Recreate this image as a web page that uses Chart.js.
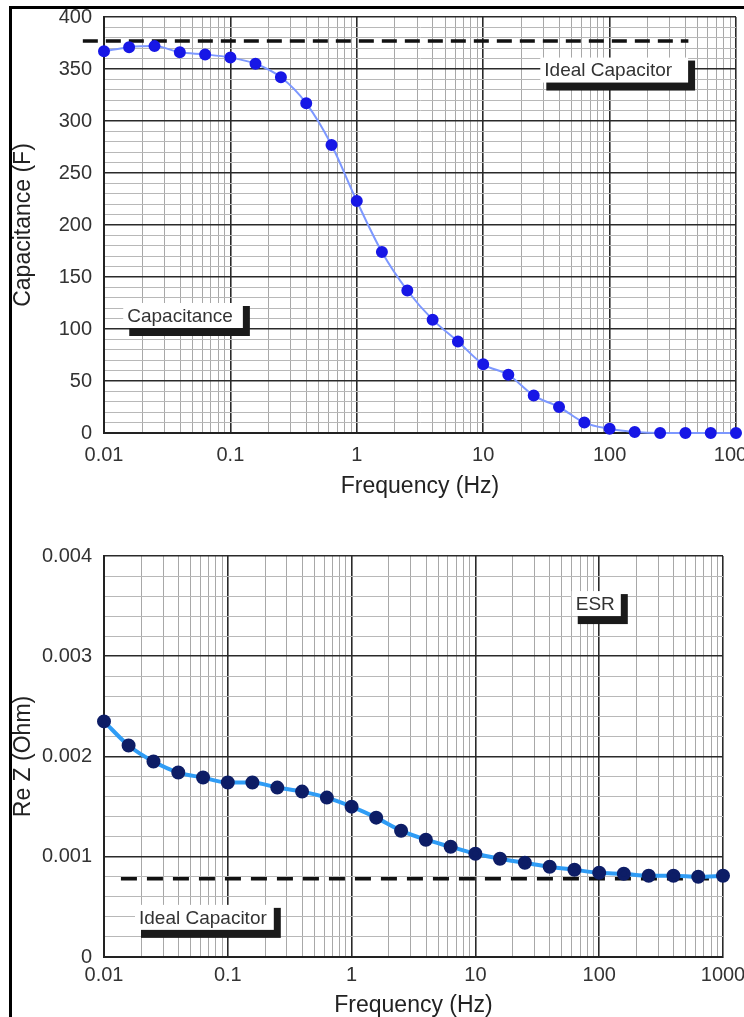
<!DOCTYPE html>
<html>
<head>
<meta charset="utf-8">
<script src="https://cdn.jsdelivr.net/npm/chart.js@4.4.1/dist/chart.umd.min.js"></script>
<style>
html, body { margin: 0; padding: 0; background: #fff; }
#page { position: relative; width: 744px; height: 1017px; overflow: hidden; }
#capChart { position: absolute; left: 0; top: 0; }
#esrChart { position: absolute; left: 0; top: 505px; }
.frameTop { position: absolute; left: 9px; top: 6px; width: 735px; height: 3px; background: #000; }
.frameLeft { position: absolute; left: 9px; top: 6px; width: 3px; height: 1011px; background: #000; }
</style>
</head>
<body>
<div id="page">
  <canvas id="capChart" width="744" height="505"></canvas>
  <canvas id="esrChart" width="744" height="512"></canvas>
  <div class="frameTop"></div>
  <div class="frameLeft"></div>
</div>
<script>
// measured data, 5 points per decade
const freqHz = [0.01, 0.0158, 0.0251, 0.0398, 0.0631, 0.1, 0.158, 0.251, 0.398, 0.631,
  1, 1.58, 2.51, 3.98, 6.31, 10, 15.8, 25.1, 39.8, 63.1, 100, 158, 251, 398, 631, 1000];
const capacitanceF = [367, 371, 372, 366, 364, 361, 355, 342, 317, 277,
  223, 174, 137, 109, 88, 66, 56, 36, 25, 10, 4, 1, 0, 0, 0, 0];
const reZOhm = [0.00235, 0.00211, 0.00195, 0.00184, 0.00179, 0.00174, 0.00174, 0.00169, 0.00165, 0.00159,
  0.0015, 0.00139, 0.00126, 0.00117, 0.0011, 0.00103, 0.00098, 0.00094, 0.0009, 0.00087,
  0.00084, 0.00083, 0.00081, 0.00081, 0.0008, 0.00081];

// ideal capacitor reference lines
const idealCapX = [0.0068, 420];
const idealCapF = [377, 377];
const idealEsrX = [0.0137, 1000];
const idealEsrOhm = [0.00078, 0.00078];

// axis labels
const decadeTicks = [0.01, 0.1, 1, 10, 100, 1000];
const decadeLabels = ['0.01', '0.1', '1', '10', '100', '1000'];
const capTicks = [0, 50, 100, 150, 200, 250, 300, 350, 400];
const capLabels = ['0', '50', '100', '150', '200', '250', '300', '350', '400'];
const esrTicks = [0, 0.001, 0.002, 0.003, 0.004];
const esrLabels = ['0', '0.001', '0.002', '0.003', '0.004'];

Chart.defaults.font.family = '"Liberation Sans", Arial, Helvetica, sans-serif';
Chart.defaults.color = '#333';

const near = (a, b) => Math.abs(a - b) <= Math.abs(b) * 1e-6 + 1e-12;
const findIdx = (arr, v) => arr.findIndex(t => near(v, t));

// 1..9 x 10^k grid for log axis
function logGrid() {
  const out = [];
  for (let d = 0; d < decadeTicks.length - 1; d++) {
    for (let m = 1; m < 10; m++) out.push(decadeTicks[d] * m);
  }
  out.push(decadeTicks[decadeTicks.length - 1]);
  return out;
}

function linGrid(max, step) {
  const out = [];
  for (let i = 0; i * step <= max + step / 100; i++) out.push(i * step);
  return out;
}

const boxLabels = {
  id: 'boxLabels',
  afterDatasetsDraw(chart, args, opts) {
    const {ctx, scales} = chart;
    ctx.save();
    ctx.font = '19px "Liberation Sans", Arial, sans-serif';
    ctx.textBaseline = 'middle';
    for (const b of opts.items || []) {
      const x = scales.x.getPixelForValue(b.x);
      const y = scales.y.getPixelForValue(b.y);
      const w = ctx.measureText(b.text).width + (b.pad || 14);
      const h = 25;
      ctx.fillStyle = '#1a1a1a';
      ctx.fillRect(x + 6, y + 3, w + 1, h + 5);
      ctx.fillStyle = '#fff';
      ctx.fillRect(x, y, w, h);
      ctx.fillStyle = '#333';
      ctx.fillText(b.text, x + 4, y + h / 2 + 1);
    }
    ctx.restore();
  }
};

function freqAxis(axisHeight, labelPad, titlePad) {
  return {
    type: 'logarithmic',
    min: 0.01,
    max: 1000,
    afterBuildTicks: s => { s.ticks = logGrid().map(v => ({value: v})); },
    afterFit: s => { s.height = axisHeight; s.paddingLeft = 0; s.paddingRight = 0; },
    ticks: {
      autoSkip: false, maxRotation: 0, padding: labelPad, color: '#333',
      font: {size: 20},
      callback: v => { const i = findIdx(decadeTicks, v); return i < 0 ? '' : decadeLabels[i]; }
    },
    grid: {
      drawTicks: false,
      color: c => findIdx(decadeTicks, c.tick.value) >= 0 ? '#2a2a2a' : '#a8a8a8',
      lineWidth: c => findIdx(decadeTicks, c.tick.value) >= 0 ? 1.6 : 1
    },
    border: {color: '#222', width: 2},
    title: {display: true, text: 'Frequency (Hz)', color: '#222',
      font: {size: 23, lineHeight: 1}, padding: {top: 0, bottom: titlePad}}
  };
}

function valueAxis(max, step, ticks, labels, title) {
  return {
    min: 0,
    max: max,
    afterBuildTicks: s => { s.ticks = linGrid(max, step).map(v => ({value: v})); },
    afterFit: s => { s.width = 104; s.paddingTop = 0; s.paddingBottom = 0; },
    ticks: {
      autoSkip: false, padding: 12, color: '#333', font: {size: 20},
      callback: v => { const i = findIdx(ticks, v); return i < 0 ? '' : labels[i]; }
    },
    grid: {
      drawTicks: false,
      color: c => findIdx(ticks, c.tick.value) >= 0 ? '#2a2a2a' : '#b8b8b8',
      lineWidth: c => findIdx(ticks, c.tick.value) >= 0 ? 1.6 : 1
    },
    border: {color: '#222', width: 2},
    title: {display: true, text: title, color: '#222',
      font: {size: 23, lineHeight: 1}, padding: {top: 12, bottom: 0}}
  };
}

// Capacitance vs frequency
new Chart(document.getElementById('capChart'), {
  type: 'line',
  data: {
    datasets: [{
      label: 'Capacitance',
      data: freqHz.map((f, i) => ({x: f, y: capacitanceF[i]})),
      borderColor: '#7d98ff',
      borderWidth: 2,
      pointRadius: 5,
      pointBackgroundColor: '#1717e6',
      pointBorderColor: '#1717e6',
      cubicInterpolationMode: 'monotone',
      clip: false,
      order: 0
    }, {
      label: 'Ideal Capacitor',
      data: idealCapX.map((f, i) => ({x: f, y: idealCapF[i]})),
      borderColor: '#111',
      borderWidth: 3.5,
      borderDash: [15, 8],
      pointRadius: 0,
      clip: false,
      order: 1
    }]
  },
  options: {
    responsive: false,
    animation: false,
    devicePixelRatio: 1,
    layout: {padding: {top: 17, right: 8, left: 0, bottom: 0}},
    scales: {
      x: freqAxis(72, 10, 7),
      y: valueAxis(400, 10, capTicks, capLabels, 'Capacitance (F)')
    },
    plugins: {
      legend: {display: false},
      tooltip: {enabled: false},
      boxLabels: {items: [
        {text: 'Ideal Capacitor', x: 28.3, y: 361, pad: 20},
        {text: 'Capacitance', x: 0.0142, y: 125}
      ]}
    }
  },
  plugins: [boxLabels]
});

// ESR (real part of impedance) vs frequency
new Chart(document.getElementById('esrChart'), {
  type: 'line',
  data: {
    datasets: [{
      label: 'ESR',
      data: freqHz.map((f, i) => ({x: f, y: reZOhm[i]})),
      borderColor: '#2f9cf5',
      borderWidth: 4,
      pointRadius: 5,
      pointBackgroundColor: '#0d1d66',
      pointBorderColor: '#0d1d66',
      cubicInterpolationMode: 'monotone',
      clip: false,
      order: 0
    }, {
      label: 'Ideal Capacitor',
      data: idealEsrX.map((f, i) => ({x: f, y: idealEsrOhm[i]})),
      borderColor: '#111',
      borderWidth: 3.5,
      borderDash: [16, 10],
      pointRadius: 0,
      clip: false,
      order: 1
    }]
  },
  options: {
    responsive: false,
    animation: false,
    devicePixelRatio: 1,
    layout: {padding: {top: 51, right: 21, left: 0, bottom: 0}},
    scales: {
      x: freqAxis(60, 6, 0),
      y: valueAxis(0.004, 0.0002, esrTicks, esrLabels, 'Re Z (Ohm)')
    },
    plugins: {
      legend: {display: false},
      tooltip: {enabled: false},
      boxLabels: {items: [
        {text: 'ESR', x: 60, y: 0.00365, pad: 10},
        {text: 'Ideal Capacitor', x: 0.0178, y: 0.00052, pad: 11}
      ]}
    }
  },
  plugins: [boxLabels]
});
</script>
</body>
</html>
